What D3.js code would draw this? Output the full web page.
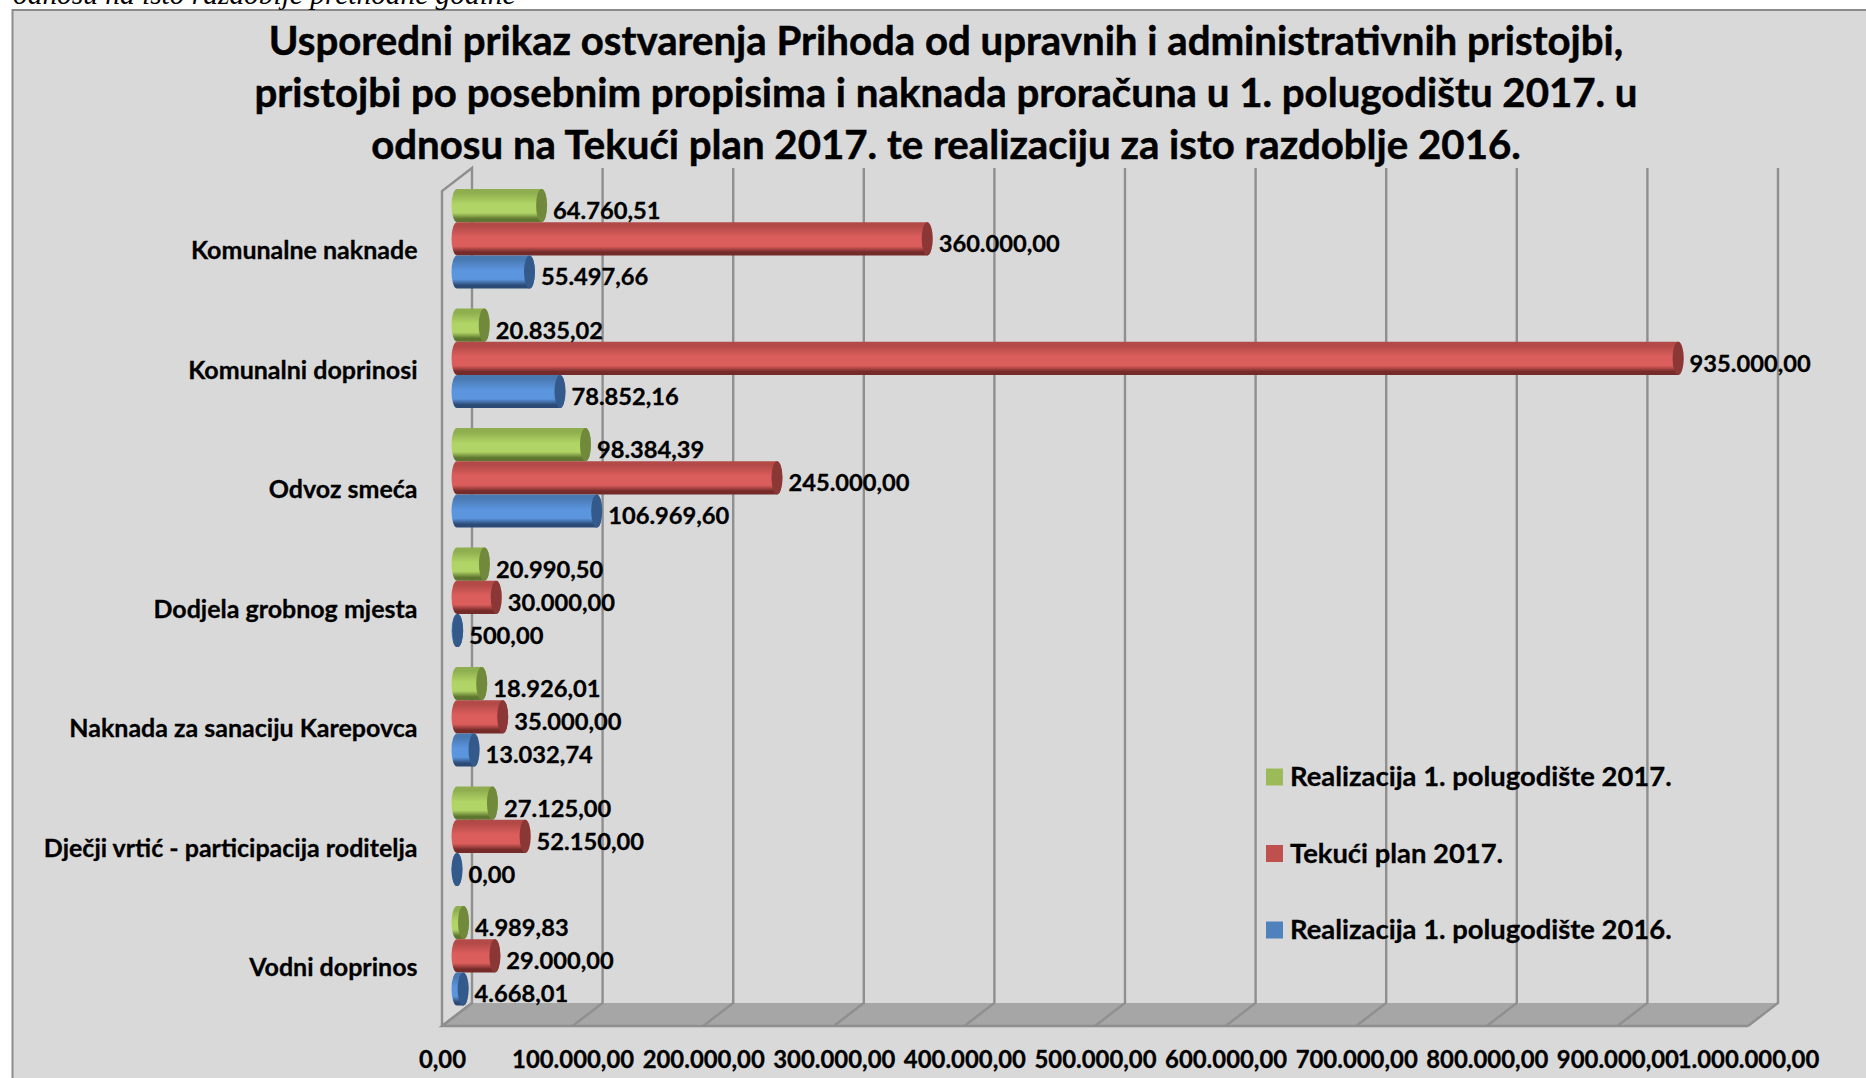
<!DOCTYPE html>
<html><head><meta charset="utf-8">
<script src="https://cdn.jsdelivr.net/npm/d3@7"></script>
<style>html,body{margin:0;padding:0;background:#fff}svg{display:block}text{font-family:Lato,sans-serif;font-weight:700;fill:#000;stroke:#000;stroke-width:.3px}</style>
</head><body><svg id="c" width="1866" height="1078"></svg>
<script>
const categories=["Komunalne naknade","Komunalni doprinosi","Odvoz smeća","Dodjela grobnog mjesta","Naknada za sanaciju Karepovca","Dječji vrtić - participacija roditelja","Vodni doprinos"];
const seriesNames=["Realizacija 1. polugodište 2017.","Tekući plan 2017.","Realizacija 1. polugodište 2016."];
const real2017=[64760.51,20835.02,98384.39,20990.50,18926.01,27125.00,4989.83];
const plan2017=[360000,935000,245000,30000,35000,52150,29000];
const real2016=[55497.66,78852.16,106969.60,500,13032.74,0,4668.01];
const tickValues=[0,100000,200000,300000,400000,500000,600000,700000,800000,900000,1000000];
const titleLines=["Usporedni prikaz ostvarenja Prihoda od upravnih i administrativnih pristojbi,","pristojbi po posebnim propisima i naknada proračuna u 1. polugodištu 2017. u","odnosu na Tekući plan 2017. te realizaciju za isto razdoblje 2016."];
const headerText="odnosu na isto razdoblje prethodne godine";
const palette=[
 {id:"g",swatch:"#9bbb59",top:"#8fae4f",mid:"#b0d465",bot:"#5f7630",cap:"#71893b"},
 {id:"r",swatch:"#c0504d",top:"#b34a48",mid:"#dc5e5c",bot:"#742b2a",cap:"#8b3735"},
 {id:"b",swatch:"#4f81bd",top:"#4a79b2",mid:"#5b95de",bot:"#2b4a75",cap:"#335a8b"}];
const values=[real2017,plan2017,real2016];

const svg=d3.select("#c");
const fmt=d3.formatLocale({decimal:",",thousands:".",grouping:[3],currency:["",""]}).format(",.2f");
const dx=30,dy=23,rx=5.5;
const xBack=d3.scaleLinear().domain([0,1000000]).range([472,1778]);
const xFront=d3.scaleLinear().domain([0,1000000]).range([472-dx,1778-dx]);
const xBar=d3.scaleLinear().domain([0,1000000]).range([472-dx/2,1778-dx/2]);
const yCat=d3.scaleBand().domain(categories).range([189,1005.6]).paddingInner(0.1665);
const ySer=d3.scaleBand().domain(seriesNames).range([0,yCat.bandwidth()]);
const floorBack=1003,floorFront=floorBack+dy,wallTop=168;

// defs
const defs=svg.append("defs");
palette.forEach(p=>{
 const g=defs.append("linearGradient").attr("id","grad-"+p.id).attr("x1",0).attr("x2",0).attr("y1",0).attr("y2",1);
 [[0,p.top],[.12,p.top],[.45,p.mid],[.72,p.mid],[.9,p.bot],[1,p.bot]].forEach(s=>g.append("stop").attr("offset",s[0]).attr("stop-color",s[1]));
});

// background
svg.append("rect").attr("x",12.5).attr("y",10).attr("width",1866).attr("height",1078).attr("fill","#d9d9d9").attr("stroke","#8c8c8c").attr("stroke-width",2);
svg.append("text").attr("x",13).attr("y",4).attr("font-size",29.4).style("font-family","'Liberation Serif',serif").style("font-style","italic").style("font-weight",400).style("stroke","none").text(headerText);

// title
svg.append("g").selectAll("text").data(titleLines).join("text")
 .attr("x",946).attr("y",(d,i)=>55+i*52).attr("text-anchor","middle").attr("font-size",40.2).style("stroke-width","0.5px").text(d=>d);

// floor + wall
const lineCol="#8f8f8f";
svg.append("path").attr("d",`M${xFront(0)},${floorFront}L${xBack(0)},${floorBack}L${xBack(1e6)},${floorBack}L${xFront(1e6)},${floorFront}Z`).attr("fill","#a6a6a6");
svg.append("path").attr("d",`M${xFront(0)},${floorFront}L${xFront(0)},${wallTop+dy}L${xBack(0)},${wallTop}L${xBack(0)},${floorBack}L${xFront(0)},${floorFront}L${xFront(1e6)},${floorFront}`).attr("fill","none").attr("stroke",lineCol).attr("stroke-width",2.4);
const grid=svg.append("g").selectAll("path").data(tickValues).join("path")
 .attr("d",d=>`M${xFront(d)},${floorFront}L${xBack(d)},${floorBack}`+(d>0?`L${xBack(d)},${wallTop}`:""))
 .attr("fill","none").attr("stroke",lineCol).attr("stroke-width",2.4);

// cylinders
const bars=svg.append("g");
categories.forEach((cat,ci)=>{
 palette.forEach((p,si)=>{
  const v=values[si][ci];
  const y0=yCat(cat)+ySer(seriesNames[si]);
  const h=ySer.bandwidth();
  const x0=xBar(0),x1=xBar(v);
  bars.append("path")
   .attr("d",`M${x0},${y0}A${rx},${h/2} 0 0 0 ${x0},${y0+h}L${x1},${y0+h}A${rx},${h/2} 0 0 0 ${x1},${y0}Z`)
   .attr("fill",`url(#grad-${p.id})`);
  bars.append("ellipse").attr("cx",x1).attr("cy",y0+h/2).attr("rx",rx).attr("ry",h/2).attr("fill",p.cap);
  svg.append("text").attr("class","dl").attr("x",x1+rx+6).attr("y",y0+h/2+5.2).attr("dy","0.35em").attr("font-size",23.7).text(fmt(v));
 });
});

// category labels
svg.append("g").selectAll("text").data(categories).join("text")
 .attr("x",417.5).attr("y",d=>yCat(d)+yCat.bandwidth()/2+11.5).attr("dy","0.35em").attr("text-anchor","end").attr("font-size",25).text(d=>d);

// value axis
const axis=svg.append("g").attr("transform",`translate(0,${floorFront})`)
 .call(d3.axisBottom(xFront).tickValues(tickValues).tickSize(0).tickPadding(0).tickFormat(fmt));
axis.select(".domain").remove();
axis.selectAll("text").attr("y",34).attr("dy","0.35em").attr("font-size",23.9).style("font-family","Lato,sans-serif");

// legend
const leg=svg.append("g").selectAll("g").data(seriesNames).join("g").attr("transform",(d,i)=>`translate(1266,${776.5+i*76.5})`);
leg.append("rect").attr("y",-8).attr("width",17).attr("height",17).attr("fill",(d,i)=>palette[i].swatch);
leg.append("text").attr("x",24).attr("dy","0.35em").attr("font-size",27.4).text(d=>d);
</script></body></html>
